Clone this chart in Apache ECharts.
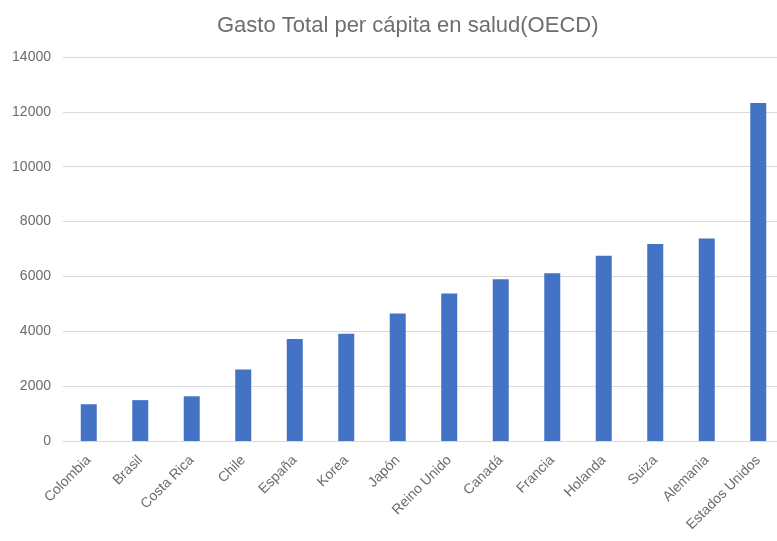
<!DOCTYPE html>
<html>
<head>
<meta charset="utf-8">
<script src="https://cdn.jsdelivr.net/npm/echarts@6/dist/echarts.min.js"></script>
<style>
  html, body { margin: 0; padding: 0; background: #fff; overflow: hidden; }
  #wrap { width: 777px; height: 541px; overflow: hidden; }
  /* the drawing surface is a little wider than the visible window, so the last column is cut at the edge */
  #chart { width: 784px; height: 541px; }
</style>
</head>
<body>
<div id="wrap"><div id="chart"></div></div>
<script>
// Gasto total per cápita en salud (OECD), por país
const countries = ['Colombia', 'Brasil', 'Costa Rica', 'Chile', 'España', 'Korea', 'Japón',
  'Reino Unido', 'Canadá', 'Francia', 'Holanda', 'Suiza', 'Alemania', 'Estados Unidos'];
const spending = [1340, 1490, 1630, 2610, 3720, 3910, 4650, 5380, 5900, 6120, 6750, 7180, 7380, 12320];

const chart = echarts.init(document.getElementById('chart'));
chart.setOption({
  animation: false,
  textStyle: { fontFamily: 'Liberation Sans, Arial, sans-serif' },
  title: {
    text: 'Gasto Total per cápita en salud(OECD)',
    left: 212,
    top: 10,
    textStyle: { fontSize: 22, fontWeight: 'normal', color: '#6e6e6e' }
  },
  grid: { left: 63, right: 0, top: 57, height: 384, containLabel: false },
  xAxis: {
    type: 'category',
    data: countries,
    axisLine: { lineStyle: { color: '#d9d9d9', width: 1 } },
    axisTick: { show: false },
    axisLabel: { rotate: 45, color: '#6b6b6b', fontSize: 14, margin: 17, interval: 0 }
  },
  yAxis: {
    type: 'value',
    min: 0,
    max: 14000,
    interval: 2000,
    axisLine: { show: false },
    axisTick: { show: false },
    splitLine: { lineStyle: { color: '#d9d9d9', width: 1 } },
    axisLabel: { color: '#6b6b6b', fontSize: 14, margin: 12, formatter: v => String(v) }
  },
  series: [{
    type: 'bar',
    data: spending,
    barWidth: 16,
    itemStyle: { color: '#4472C4' }
  }]
});
</script>
</body>
</html>
